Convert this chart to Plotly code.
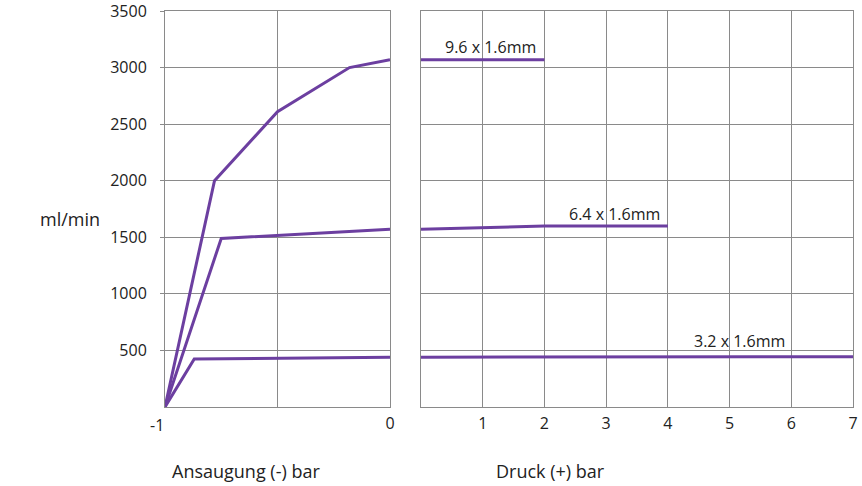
import plotly.graph_objects as go

# Data (x in bar, y in ml/min)
s96_left_x = [-1, -0.78, -0.5, -0.18, 0]
s96_left_y = [0, 2000, 2610, 3000, 3070]
s96_right_x = [0, 2]
s96_right_y = [3070, 3070]

s64_left_x = [-1, -0.75, 0]
s64_left_y = [0, 1490, 1570]
s64_right_x = [0, 2, 4]
s64_right_y = [1570, 1600, 1600]

s32_left_x = [-1, -0.87, 0]
s32_left_y = [0, 425, 440]
s32_right_x = [0, 7]
s32_right_y = [440, 445]

labels = ["9.6 x 1.6mm", "6.4 x 1.6mm", "3.2 x 1.6mm"]
label_x = [1.13, 3.13, 5.16]
label_y = [3185, 1710, 580]

y_ticks = [500, 1000, 1500, 2000, 2500, 3000, 3500]
left_x_ticks = [-1, -0.5, 0]
left_x_text = ["", "", "0"]
right_x_ticks = [0, 1, 2, 3, 4, 5, 6, 7]
right_x_text = ["", "1", "2", "3", "4", "5", "6", "7"]

color = "#6C3FA0"
grid = "#8a8a8a"
FONT = "Open Sans"

W, H = 862, 486
TOP, BOT = 11, 407
PH = BOT - TOP

fig = go.Figure()
for xs, ys in [(s96_left_x, s96_left_y), (s64_left_x, s64_left_y), (s32_left_x, s32_left_y)]:
    fig.add_trace(go.Scatter(x=xs, y=ys, mode="lines", line=dict(color=color, width=3),
                             xaxis="x", yaxis="y", showlegend=False, hoverinfo="skip"))
for xs, ys in [(s96_right_x, s96_right_y), (s64_right_x, s64_right_y), (s32_right_x, s32_right_y)]:
    fig.add_trace(go.Scatter(x=xs, y=ys, mode="lines", line=dict(color=color, width=3),
                             xaxis="x2", yaxis="y2", showlegend=False, hoverinfo="skip"))

for t, lx, ly in zip(labels, label_x, label_y):
    fig.add_annotation(x=lx, y=ly, xref="x2", yref="y2", text=t, showarrow=False,
                       font=dict(family=FONT, size=16, color="#222"))

# "-1" label sits slightly left of the axis in the reference
fig.add_annotation(x=-1, y=0, xref="x", yref="y", text="-1", showarrow=False,
                   xshift=-8, yshift=-18, font=dict(family=FONT, size=16, color="#222"))

fig.add_annotation(x=38 / W, y=(BOT - 219) / PH, xref="paper", yref="paper",
                   text="ml/min", showarrow=False, yanchor="middle",
                   font=dict(family=FONT, size=18, color="#222"))
fig.add_annotation(x=170 / W, y=-(471 - BOT) / PH, xref="paper", yref="paper",
                   text="Ansaugung (-) bar", showarrow=False, yanchor="middle",
                   font=dict(family=FONT, size=18, color="#222"))
fig.add_annotation(x=550 / W, y=-(471 - BOT) / PH, xref="paper", yref="paper",
                   text="Druck (+) bar", showarrow=False, yanchor="middle",
                   font=dict(family=FONT, size=18, color="#222"))

common_axis = dict(showline=True, linecolor=grid, linewidth=1, mirror=True,
                   showgrid=True, gridcolor=grid, gridwidth=1, zeroline=False,
                   ticklabeloverflow="allow",
                   tickfont=dict(family=FONT, size=16, color="#222"))

fig.update_layout(
    width=W, height=H,
    margin=dict(l=0, r=0, t=TOP, b=H - BOT, autoexpand=False),
    plot_bgcolor="white", paper_bgcolor="white",
    xaxis=dict(domain=[165 / W, 390 / W], range=[-1, 0], tickvals=left_x_ticks,
               ticktext=left_x_text, anchor="y", ticks="", ticklabelstandoff=2, **common_axis),
    yaxis=dict(domain=[0, 1], range=[0, 3500], tickvals=y_ticks, anchor="x",
               ticks="outside", ticklen=4, tickcolor=grid, ticklabelstandoff=10, **common_axis),
    xaxis2=dict(domain=[421 / W, 853 / W], range=[0, 7], tickvals=right_x_ticks,
                ticktext=right_x_text, anchor="y2", ticks="", ticklabelstandoff=2, **common_axis),
    yaxis2=dict(domain=[0, 1], range=[0, 3500], tickvals=y_ticks, anchor="x2",
                showticklabels=False, ticks="", **common_axis),
)

fig.write_html("out.html", config={"displayModeBar": False},
               post_script="document.body.style.margin='0';document.body.style.overflow='hidden';")
